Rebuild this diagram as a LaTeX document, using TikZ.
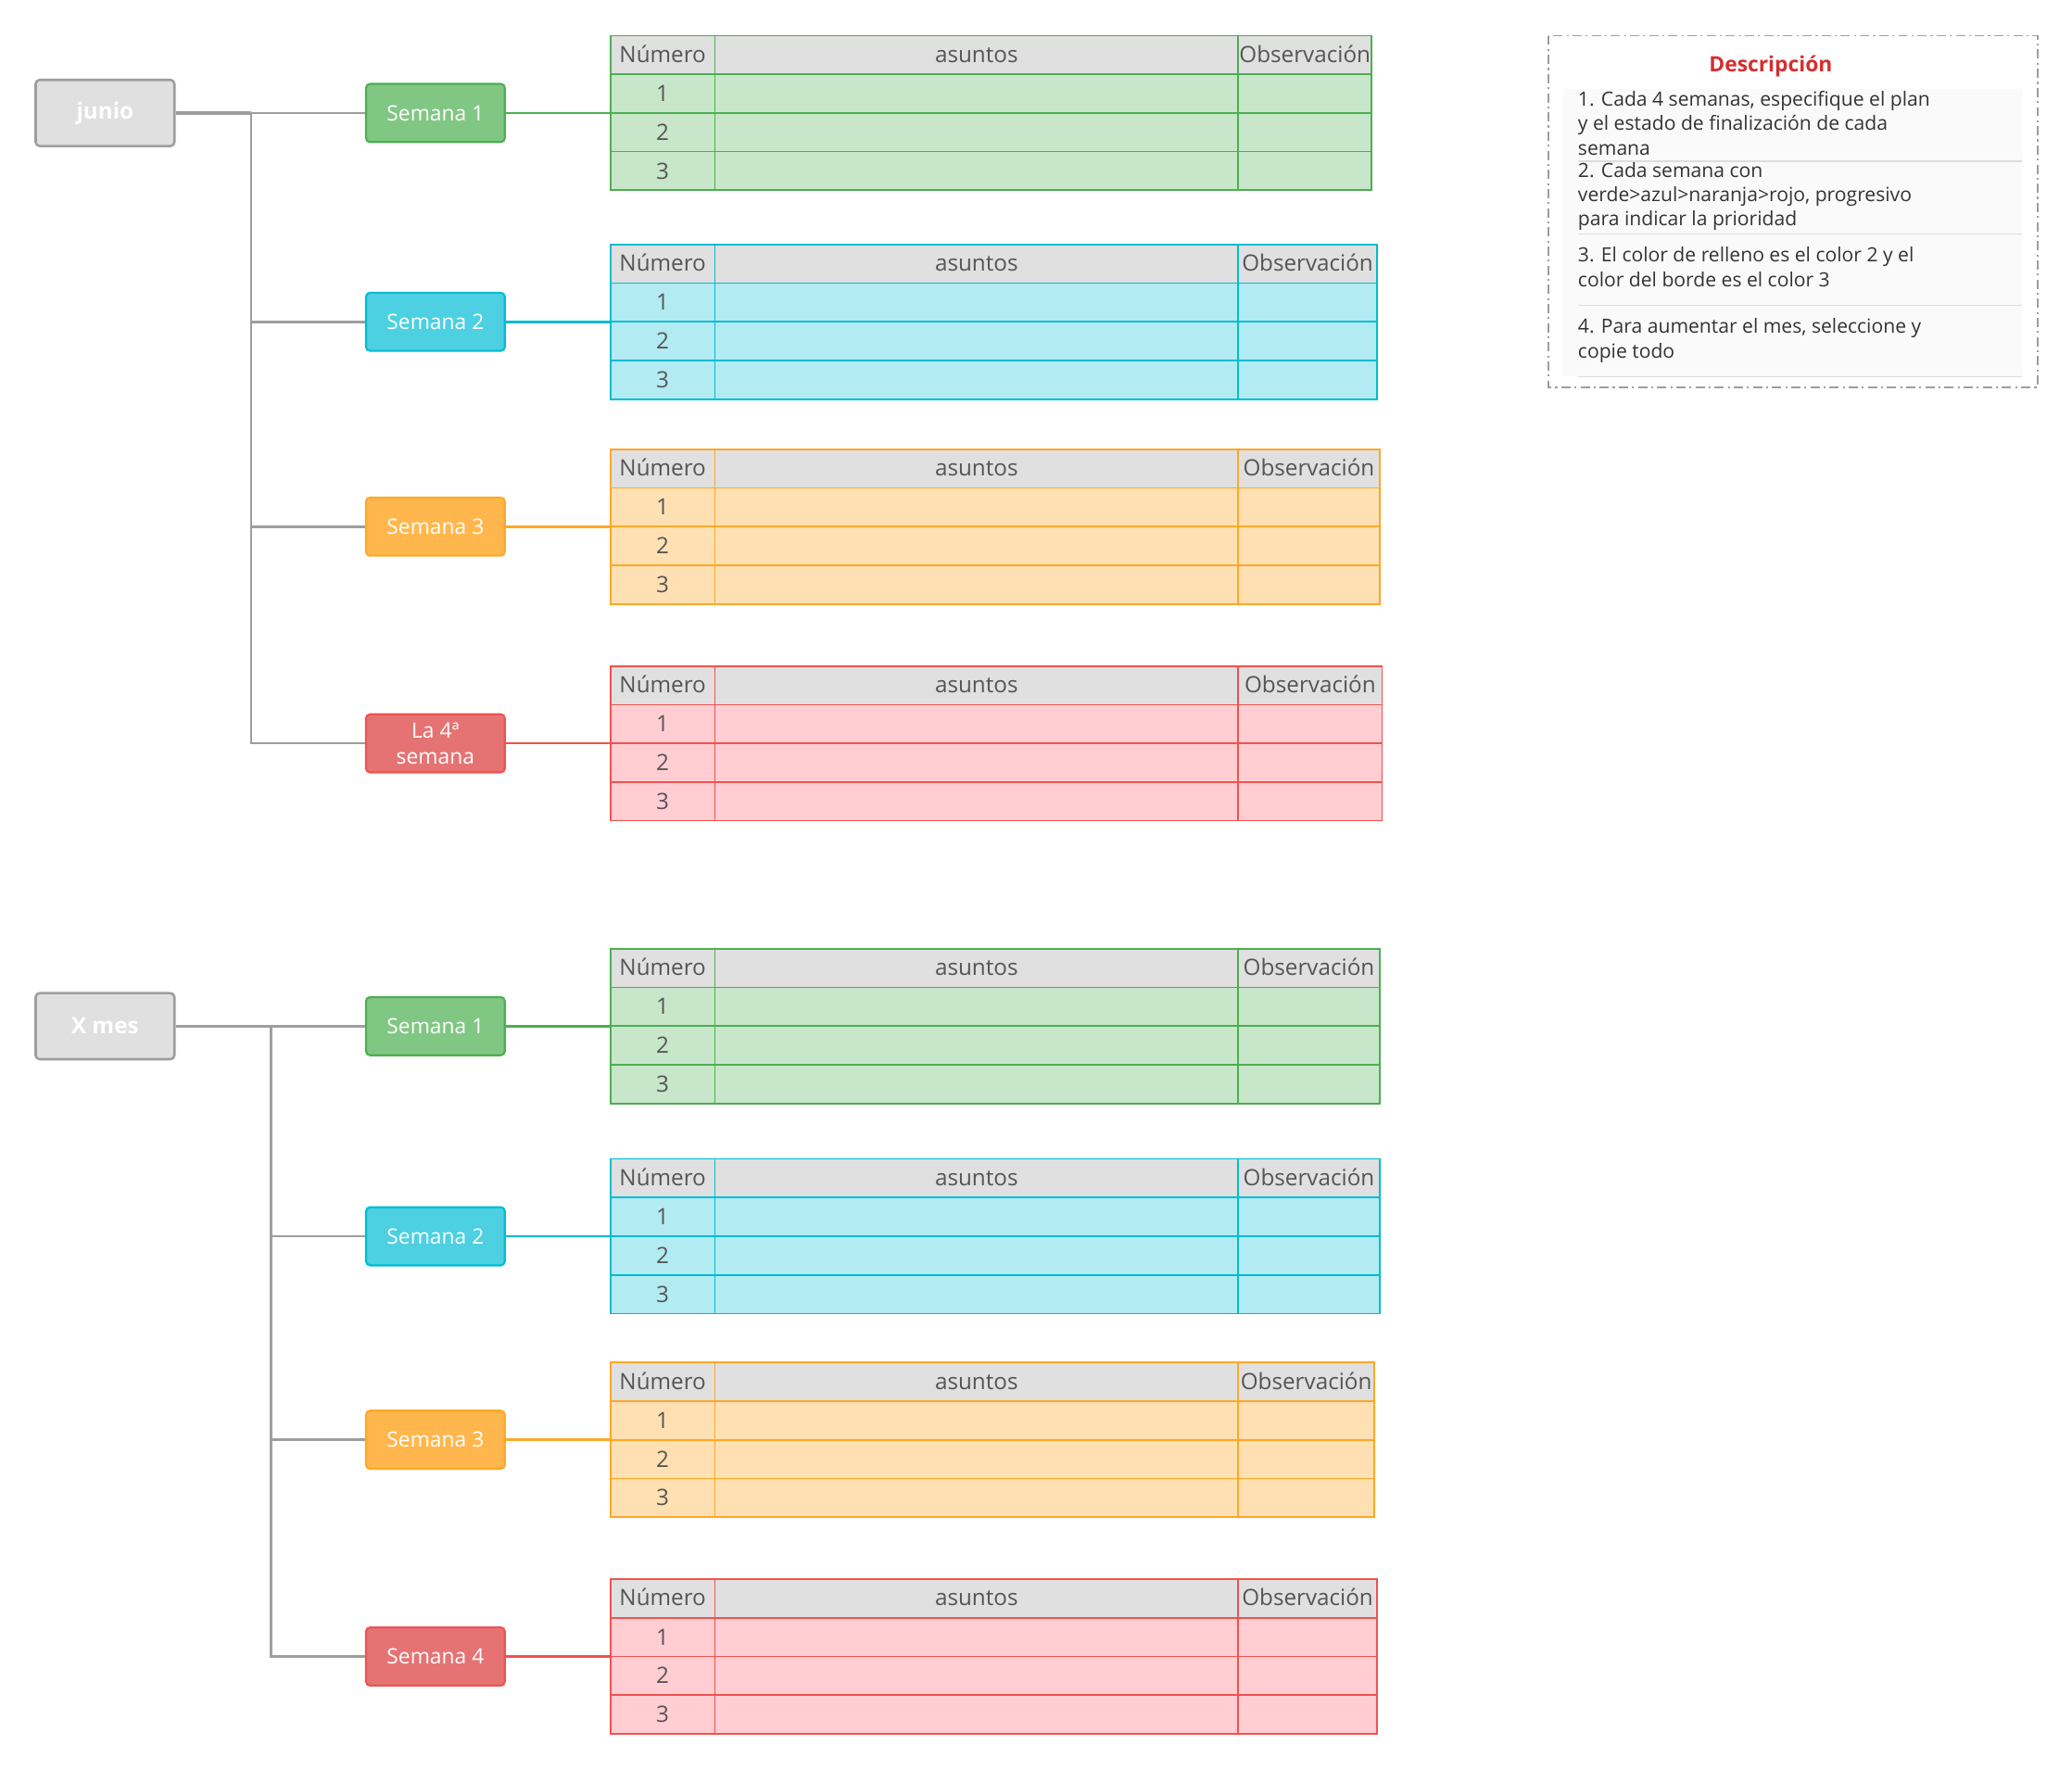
\documentclass[tikz,border=0pt]{standalone}
\usepackage{fontspec}
\setmainfont{Open Sans}
\usepackage{xcolor}
\usepackage{tikz}
\usetikzlibrary{positioning}

\definecolor{hdrgray}{HTML}{E0E0E0}
\definecolor{linegray}{HTML}{9E9E9E}
\definecolor{txtgray}{HTML}{555555}
\definecolor{desctxt}{HTML}{333333}
\definecolor{descfill}{HTML}{FAFAFA}
\definecolor{sepgray}{HTML}{DDDDDD}
\definecolor{descred}{HTML}{D32F2F}
\definecolor{grnfill}{HTML}{C8E6C9}
\definecolor{grnbox}{HTML}{81C784}
\definecolor{grnline}{HTML}{4CAF50}
\definecolor{bluefill}{HTML}{B2EBF2}
\definecolor{bluebox}{HTML}{4DD0E1}
\definecolor{blueline}{HTML}{00BCD4}
\definecolor{orgfill}{HTML}{FFE0B2}
\definecolor{orgbox}{HTML}{FFB74D}
\definecolor{orgline}{HTML}{FFA726}
\definecolor{redfill}{HTML}{FFCDD2}
\definecolor{redbox}{HTML}{E57373}
\definecolor{redline}{HTML}{EF5350}

% table of one week: name, top, right edge, colour
\newcommand{\weektable}[4]{%
  \fill[#4fill] (462,#2) rectangle (#3,{#2+117});
  \fill[hdrgray] (462,#2) rectangle (#3,{#2+29.25});
  \foreach \r in {1,2,3}
    \draw[cellline=#4] (462,{#2+29.25*\r}) -- (#3,{#2+29.25*\r});
  \draw[cellline=#4] (541,#2) -- (541,{#2+117}) (937,#2) -- (937,{#2+117});
  \draw[cellline=#4] (462,#2) rectangle (#3,{#2+117});
  \node[celltext] (#1-num) at (501.5,{#2+20.2}) {Número};
  \node[celltext] (#1-asu) at (739,{#2+20.2}) {asuntos};
  \node[celltext] (#1-obs) at ({(937+#3)/2},{#2+20.2}) {Observación};
  \foreach \r in {1,2,3}
    \node[celltext] (#1-\r) at (501.5,{#2+29.25*\r+20.6}) {\r};
  \coordinate (#1) at (462,{#2+58.5});
}

\begin{document}
\begin{tikzpicture}[x=1pt,y=-1pt,
  monthbox/.style={draw=linegray, fill=hdrgray, line width=1.8pt, rounded corners=3pt,
    minimum width=105pt, minimum height=50pt, inner sep=0pt, text=white,
    font=\fontsize{17}{20}\selectfont\bfseries},
  weekbox/.style={draw=#1line, fill=#1box, line width=1.5pt, rounded corners=3pt,
    minimum width=105pt, minimum height=44pt, inner sep=0pt, text=white, align=center,
    font=\fontsize{16}{19.5}\selectfont},
  trunk/.style={linegray, line width=1.8pt},
  link/.style={#1line, line width=1.8pt},
  cellline/.style={#1line, line width=1.2pt},
  celltext/.style={text=txtgray, anchor=base, inner sep=0pt, font=\fontsize{17}{20}\selectfont},
  desctext/.style={text=desctxt, anchor=north west, inner sep=0pt, align=left,
    font=\fontsize{14.8}{18.3}\selectfont}]
  \useasboundingbox (0,0) rectangle (1568,1339);

  % junio
  \node[monthbox] (junio) at (79.5,85.5) {junio};
  \foreach \name/\ytop/\xright/\clr in {t1/27/1038/grn,t2/185/1042/blue,t3/340/1044/org,t4/504/1046/red}
    \weektable{\name}{\ytop}{\xright}{\clr};
  \node[weekbox=grn] (w1) at (329.5,85.5) {Semana 1};
  \node[weekbox=blue] (w2) at (329.5,243.5) {Semana 2};
  \node[weekbox=org] (w3) at (329.5,398.5) {Semana 3};
  \node[weekbox=red] (w4) at (329.5,562.5) {La 4ª\\semana};
  \coordinate (jtrunk) at (190,85.5);
  \draw[trunk, line width=2.4pt] (junio.east) -- (jtrunk);
  \draw[trunk] (jtrunk) -- (w1.west);
  \foreach \w in {w2,w3,w4}
    \draw[trunk] (jtrunk) |- (\w.west);
  \draw[link=grn] (w1.east) -- (w1.east -| t1);
  \draw[link=blue] (w2.east) -- (w2.east -| t2);
  \draw[link=org] (w3.east) -- (w3.east -| t3);
  \draw[link=red] (w4.east) -- (w4.east -| t4);

  % X mes
  \node[monthbox] (xmes) at (79.5,776.5) {X mes};
  \foreach \name/\ytop/\xright/\clr in {t5/718/1044/grn,t6/877/1044/blue,t7/1031/1040/org,t8/1195/1042/red}
    \weektable{\name}{\ytop}{\xright}{\clr};
  \node[weekbox=grn] (w5) at (329.5,776.5) {Semana 1};
  \node[weekbox=blue] (w6) at (329.5,935.5) {Semana 2};
  \node[weekbox=org] (w7) at (329.5,1089.5) {Semana 3};
  \node[weekbox=red] (w8) at (329.5,1253.5) {Semana 4};
  \coordinate (xtrunk) at (205,776.5);
  \draw[trunk, line width=2.4pt] (xmes.east) -- (xtrunk);
  \draw[trunk] (xtrunk) -- (w5.west);
  \foreach \w in {w6,w7,w8}
    \draw[trunk] (xtrunk) |- (\w.west);
  \draw[link=grn] (w5.east) -- (w5.east -| t5);
  \draw[link=blue] (w6.east) -- (w6.east -| t6);
  \draw[link=org] (w7.east) -- (w7.east -| t7);
  \draw[link=red] (w8.east) -- (w8.east -| t8);

  % Descripcion
  \draw[linegray, line width=1.3pt, dash pattern=on 7pt off 3pt on 1.5pt off 3pt]
    (1172,27) rectangle (1542,293);
  \fill[descfill] (1182,67) rectangle (1530,285);
  \foreach \y in {122,177,231,285}
    \draw[sepgray, line width=1pt] (1194,\y) -- (1530,\y);
  \node[text=descred, font=\fontsize{16}{19}\selectfont\bfseries] (desc) at (1340,50) {Descripción};
  \node[desctext] (d1) at (1194,69) {1. Cada 4 semanas, especifique el plan\\y el estado de finalización de cada\\semana};
  \node[desctext] (d2) at (1194,123) {2. Cada semana con\\verde>azul>naranja>rojo, progresivo\\para indicar la prioridad};
  \node[desctext] (d3) at (1194,187) {3. El color de relleno es el color 2 y el\\color del borde es el color 3};
  \node[desctext] (d4) at (1194,241) {4. Para aumentar el mes, seleccione y\\copie todo};
\end{tikzpicture}
\end{document}
